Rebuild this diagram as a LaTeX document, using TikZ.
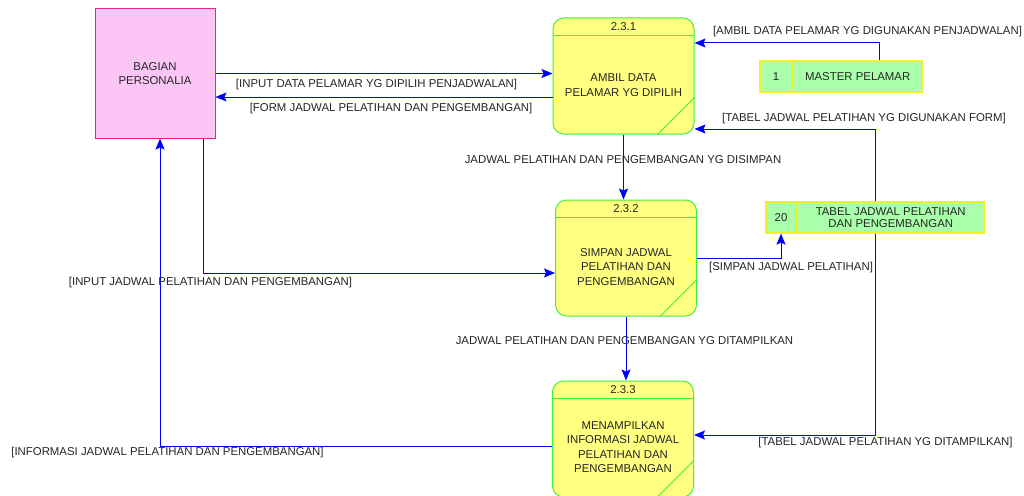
\documentclass[tikz,border=0pt]{standalone}
\usepackage{fontspec}
\setmainfont{Liberation Sans}
\usetikzlibrary{arrows.meta,positioning,backgrounds}
\definecolor{entfill}{RGB}{251,198,246}
\definecolor{entline}{RGB}{226,40,128}
\definecolor{procfill}{RGB}{255,255,128}
\definecolor{procline}{RGB}{64,240,64}
\definecolor{storefill}{RGB}{170,255,170}
\definecolor{storeline}{RGB}{240,240,40}
\definecolor{flowblue}{RGB}{0,0,255}
\begin{document}
\begin{tikzpicture}[x=1pt,y=-1pt,>={Stealth[length=11pt,width=9pt,inset=2pt]},
  font=\fontsize{11.4}{14.5}\selectfont,
  entity/.style={draw=entline,fill=entfill,line width=1pt,minimum width=120pt,
    minimum height=129pt,align=center,inner sep=0pt,text=black!85},
  process/.style={draw=procline,fill=procfill,line width=1pt,rounded corners=11pt,
    minimum width=141pt,minimum height=116pt,inner sep=0pt},
  procrule/.style={draw=procline,line width=1pt},
  proctext/.style={align=center,inner sep=0pt,text=black!85},
  storenum/.style={draw=storeline,fill=storefill,line width=1.2pt,minimum height=31pt,
    inner sep=0pt,text=black!85},
  storename/.style={storenum,align=center,font=\fontsize{11.4}{12.5}\selectfont},
  flow/.style={draw=flowblue,line width=1pt,->},
  lbl/.style={text=black!85,inner sep=0pt}]
  \useasboundingbox (0,0) rectangle (1024,495);
  % External entity.
  \node[entity] (personalia) at (155,73.5) {BAGIAN\\PERSONALIA};
  % Processes.
  \node[process] (p231) at (623.5,76) {};
  \node[process] (p232) at (626,258) {};
  \node[process] (p233) at (623,439) {};
  \foreach \p/\num in {p231/2.3.1,p232/2.3.2,p233/2.3.3}{
    \draw[procrule] ([yshift=-18pt]\p.north west) -- ([yshift=-18pt]\p.north east);
    \draw[procrule] ([yshift=37pt]\p.south east) -- ([xshift=-37pt]\p.south east);
    \node[proctext] (t\p) at ([yshift=-9pt]\p.north) {\num};
  }
  \node[proctext] (b231) at ([yshift=-9pt]p231.center) {AMBIL DATA\\PELAMAR YG DIPILIH};
  \node[proctext] (b232) at ([yshift=-9pt]p232.center) {SIMPAN JADWAL\\PELATIHAN DAN\\PENGEMBANGAN};
  \node[proctext] (b233) at ([yshift=-8pt]p233.center) {MENAMPILKAN\\INFORMASI JADWAL\\PELATIHAN DAN\\PENGEMBANGAN};
  % Data stores.
  \node[storenum,minimum width=32pt] (n1) at (776,76.5) {1};
  \node[storename,minimum width=129pt,right=0pt of n1] (s1) {MASTER PELAMAR};
  \node[storenum,minimum width=30pt] (n20) at (781,217.5) {20};
  \node[storename,minimum width=187pt,right=0pt of n20] (s20) {TABEL JADWAL PELATIHAN\\DAN PENGEMBANGAN};
  % Bend points of the flows.
  \coordinate (c1) at (879,43);
  \coordinate (c4) at (875,129);
  \coordinate (c5) at (875,435);
  \coordinate (c8) at (203,273);
  \coordinate (c10) at (160,446);
  % Data flows.
  \draw[flow] (s1.north -| c1) -- (c1) -- (c1 -| p231.east);
  \draw[flow] (personalia.east) -- (personalia.east -| p231.west);
  \draw[flow] ([yshift=-21pt]p231.west) -- ([yshift=-21pt]p231.west -| personalia.east);
  \draw[flow] (p231.south) -- (p231.south |- p232.north);
  \draw[flow] (p232.south) -- (p232.south |- p233.north);
  \draw[flow] (personalia.south -| c8) -- (c8) -- (c8 -| p232.west);
  \draw[flow] (p232.east) -| (n20.south);
  \draw[flow] (c10 -| p233.west) -- (c10) -- (c10 |- personalia.south);
  \begin{scope}[on background layer]
    \fill[white] (0,0) rectangle (1024,495);
    \draw[flow] (s20.north -| c4) -- (c4) -- (c4 -| p231.east);
    \draw[flow] (s20.south -| c5) -- (c5) -- (c5 -| p233.east);
  \end{scope}
  % Flow labels.
  \node[lbl] (l1) at (867.5,32) {[AMBIL DATA PELAMAR YG DIGUNAKAN PENJADWALAN]};
  \node[lbl] (l2) at (376.5,85) {[INPUT DATA PELAMAR YG DIPILIH PENJADWALAN]};
  \node[lbl] (l3) at (391,109) {[FORM JADWAL PELATIHAN DAN PENGEMBANGAN]};
  \node[lbl] (l4) at (864,119) {[TABEL JADWAL PELATIHAN YG DIGUNAKAN FORM]};
  \node[lbl] (l5) at (623,160) {JADWAL PELATIHAN DAN PENGEMBANGAN YG DISIMPAN};
  \node[lbl] (l6) at (210.5,283) {[INPUT JADWAL PELATIHAN DAN PENGEMBANGAN]};
  \node[lbl] (l7) at (791,268) {[SIMPAN JADWAL PELATIHAN]};
  \node[lbl] (l8) at (624.5,341) {JADWAL PELATIHAN DAN PENGEMBANGAN YG DITAMPILKAN};
  \node[lbl] (l9) at (885.5,443) {[TABEL JADWAL PELATIHAN YG DITAMPILKAN]};
  \node[lbl] (l10) at (167.5,453) {[INFORMASI JADWAL PELATIHAN DAN PENGEMBANGAN]};
\end{tikzpicture}
\end{document}
